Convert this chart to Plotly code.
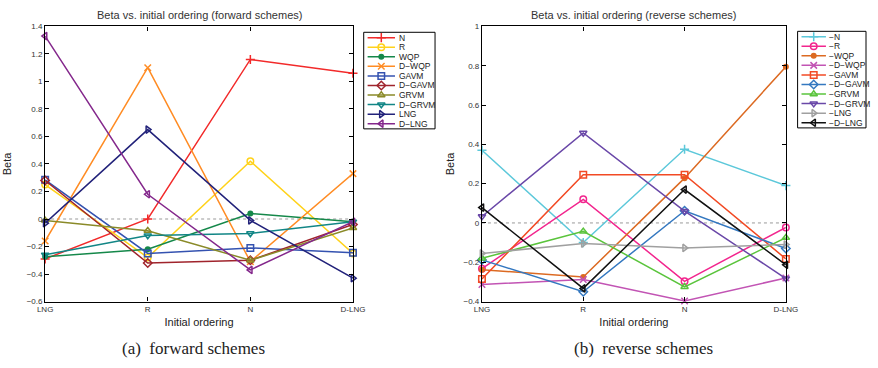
import plotly.graph_objects as go

categories = ["LNG", "R", "N", "D-LNG"]
xpos = [1, 2, 3, 4]

# forward schemes
fwd_names = ["N", "R", "WQP", "D\u2212WQP", "GAVM", "D\u2212GAVM", "GRVM", "D\u2212GRVM", "LNG", "D\u2212LNG"]
fwd_N = [-0.29, 0.00, 1.16, 1.06]
fwd_R = [0.25, -0.28, 0.42, -0.25]
fwd_WQP = [-0.275, -0.22, 0.04, -0.02]
fwd_DWQP = [-0.16, 1.10, -0.31, 0.33]
fwd_GAVM = [0.285, -0.25, -0.21, -0.245]
fwd_DGAVM = [0.28, -0.32, -0.30, -0.04]
fwd_GRVM = [-0.01, -0.085, -0.30, -0.065]
fwd_DGRVM = [-0.26, -0.12, -0.105, -0.02]
fwd_LNG = [-0.03, 0.65, -0.01, -0.43]
fwd_DLNG = [1.33, 0.18, -0.37, -0.02]
fwd_values = [fwd_N, fwd_R, fwd_WQP, fwd_DWQP, fwd_GAVM, fwd_DGAVM, fwd_GRVM, fwd_DGRVM, fwd_LNG, fwd_DLNG]

# reverse schemes
rev_names = ["\u2212N", "\u2212R", "\u2212WQP", "\u2212D\u2212WQP", "\u2212GAVM", "\u2212D\u2212GAVM",
             "\u2212GRVM", "\u2212D\u2212GRVM", "\u2212LNG", "\u2212D\u2212LNG"]
rev_N = [0.37, -0.10, 0.375, 0.19]
rev_R = [-0.233, 0.12, -0.297, -0.023]
rev_WQP = [-0.238, -0.275, 0.228, 0.795]
rev_DWQP = [-0.313, -0.288, -0.397, -0.28]
rev_GAVM = [-0.285, 0.245, 0.245, -0.183]
rev_DGAVM = [-0.188, -0.35, 0.062, -0.13]
rev_GRVM = [-0.18, -0.043, -0.325, -0.075]
rev_DGRVM = [0.033, 0.458, 0.06, -0.283]
rev_LNG = [-0.155, -0.105, -0.127, -0.11]
rev_DLNG = [0.078, -0.333, 0.17, -0.213]
rev_values = [rev_N, rev_R, rev_WQP, rev_DWQP, rev_GAVM, rev_DGAVM, rev_GRVM, rev_DGRVM, rev_LNG, rev_DLNG]

fwd_colors = ["#F22A2A", "#FFD21A", "#15884A", "#FF8C24", "#3452B0", "#A0242C",
              "#8A8A28", "#128686", "#22227A", "#84288C"]
rev_colors = ["#5CC8DA", "#F2268E", "#DC6A22", "#C254B4", "#F24A24", "#3478C0",
              "#5AC43C", "#6A48A8", "#A0A0A0", "#111111"]
symbols = ["cross-thin-open", "circle-open", "circle", "x-thin-open", "square-open",
           "diamond-open", "triangle-up-open", "triangle-down-open", "triangle-right-open",
           "triangle-left-open"]

W, H = 878, 368
def px_x(v):
    return v / W
def px_y(v):
    return 1 - v / H

def msize(sym):
    return 4.5 if sym == "circle" else 6.5

fig = go.Figure()

for name, vals, col, sym in zip(fwd_names, fwd_values, fwd_colors, symbols):
    fig.add_trace(go.Scatter(
        x=xpos, y=vals, name=name, mode="lines+markers",
        line=dict(color=col, width=1.5),
        marker=dict(symbol=sym, size=msize(sym), color=col, line=dict(color=col, width=1.5)),
        cliponaxis=False, xaxis="x", yaxis="y", showlegend=False))

for name, vals, col, sym in zip(rev_names, rev_values, rev_colors, symbols):
    fig.add_trace(go.Scatter(
        x=xpos, y=vals, name=name, mode="lines+markers",
        line=dict(color=col, width=1.5),
        marker=dict(symbol=sym, size=msize(sym), color=col, line=dict(color=col, width=1.5)),
        cliponaxis=False, xaxis="x2", yaxis="y2", showlegend=False))

# custom compact legends, drawn on pixel-unit helper axes
ROW = 9.8
def add_legend(names, colors, xa, ya, x_line0, x_line1, x_text):
    for i, (name, col, sym) in enumerate(zip(names, colors, symbols)):
        yy = 5.5 + i * ROW
        fig.add_trace(go.Scatter(
            x=[x_line0, x_line1], y=[yy, yy], mode="lines", line=dict(color=col, width=1.5),
            xaxis=xa, yaxis=ya, showlegend=False, hoverinfo="skip", cliponaxis=False))
        fig.add_trace(go.Scatter(
            x=[(x_line0 + x_line1) / 2], y=[yy], mode="markers",
            marker=dict(symbol=sym, size=msize(sym), color=col, line=dict(color=col, width=1.5)),
            xaxis=xa, yaxis=ya, showlegend=False, hoverinfo="skip", cliponaxis=False))
        fig.add_annotation(text=name, x=x_text, y=yy, xref=xa, yref=ya, xanchor="left",
                           yanchor="middle", showarrow=False,
                           font=dict(size=8.5, color="#222222"))
    fig.add_shape(type="rect", xref=xa + " domain", yref=ya + " domain", x0=0, x1=1, y0=0, y1=1,
                  line=dict(color="black", width=1), fillcolor="rgba(0,0,0,0)")

helper = dict(visible=False, showgrid=False, zeroline=False, fixedrange=True)

axis_common = dict(showline=True, linecolor="black", linewidth=1.2, mirror="allticks",
                   ticks="inside", ticklen=4, tickcolor="black", showgrid=False,
                   zeroline=False, tickfont=dict(size=8, color="#333333"))

fig.update_layout(
    width=W, height=H, margin=dict(l=0, r=0, t=0, b=0),
    paper_bgcolor="white", plot_bgcolor="white",
    font=dict(family="Liberation Sans, Arial, sans-serif", color="#222222"),
    xaxis=dict(domain=[px_x(38), px_x(353)], range=[1, 4], tickvals=xpos, ticktext=categories,
               title=dict(text="Initial ordering", font=dict(size=11), standoff=5), anchor="y",
               **axis_common),
    yaxis=dict(domain=[px_y(305), px_y(23)], range=[-0.6, 1.4], dtick=0.2, tick0=-0.6,
               title=dict(text="Beta", font=dict(size=11), standoff=12), anchor="x",
               **axis_common),
    xaxis2=dict(domain=[px_x(485), px_x(796)], range=[1, 4], tickvals=xpos, ticktext=categories,
                title=dict(text="Initial ordering", font=dict(size=11), standoff=5), anchor="y2",
                **axis_common),
    yaxis2=dict(domain=[px_y(305), px_y(23)], range=[-0.4, 1.0], dtick=0.2, tick0=-0.4,
                title=dict(text="Beta", font=dict(size=11), standoff=6), anchor="x2",
                **axis_common),
    xaxis3=dict(domain=[px_x(364), px_x(437)], range=[0, 73], anchor="y3", **helper),
    yaxis3=dict(domain=[px_y(128), px_y(29)], range=[99, 0], anchor="x3", **helper),
    xaxis4=dict(domain=[px_x(808), 1.0], range=[0, 70], anchor="y4", **helper),
    yaxis4=dict(domain=[px_y(127), px_y(28)], range=[99, 0], anchor="x4", **helper),
    showlegend=False,
)

add_legend(fwd_names, fwd_colors, "x3", "y3", 4, 32, 34)
add_legend(rev_names, rev_colors, "x4", "y4", 4, 29, 30)

# dotted zero lines
for xr, yr in [("x domain", "y"), ("x2 domain", "y2")]:
    fig.add_shape(type="line", xref=xr, yref=yr, x0=0, x1=1, y0=0, y1=0,
                  line=dict(color="#999999", width=1, dash="dot"), layer="below")

# titles and captions
fig.add_annotation(text="Beta vs. initial ordering (forward schemes)", x=(px_x(38) + px_x(353)) / 2,
                   y=px_y(11), xref="paper", yref="paper", showarrow=False,
                   xanchor="center", yanchor="middle", font=dict(size=11, color="#333333"))
fig.add_annotation(text="Beta vs. initial ordering (reverse schemes)", x=(px_x(485) + px_x(796)) / 2,
                   y=px_y(11), xref="paper", yref="paper", showarrow=False,
                   xanchor="center", yanchor="middle", font=dict(size=11, color="#333333"))
serif = "Liberation Serif, Times New Roman, serif"
fig.add_annotation(text="(a)  forward schemes", x=px_x(190), y=px_y(353), xref="paper", yref="paper",
                   xanchor="center", yanchor="middle", showarrow=False,
                   font=dict(size=17, family=serif, color="#222222"))
fig.add_annotation(text="(b)  reverse schemes", x=px_x(650), y=px_y(353), xref="paper", yref="paper",
                   xanchor="center", yanchor="middle", showarrow=False,
                   font=dict(size=17, family=serif, color="#222222"))

fig.write_html("out.html", config={"displayModeBar": False},
               post_script="document.body.style.margin='0';")
